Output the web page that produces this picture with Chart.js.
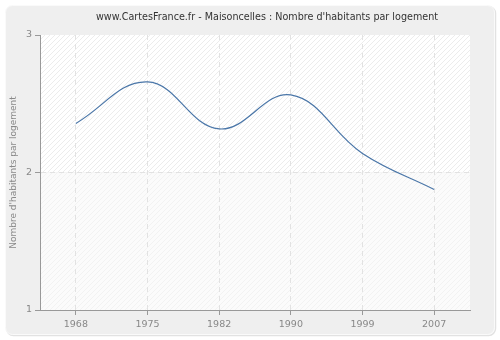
<!DOCTYPE html>
<html><head><meta charset="utf-8">
<script src="https://cdn.jsdelivr.net/npm/chart.js@4/dist/chart.umd.min.js"></script>
<style>html,body{margin:0;padding:0;background:#fff}#wrap{width:500px;height:340px}</style>
</head><body><div id="wrap"><canvas id="c" width="500" height="340"></canvas></div>
<script>
const years = ["1968", "1975", "1982", "1990", "1999", "2007"];
const habitantsParLogement = [2.357, 2.659, 2.317, 2.564, 2.139, 1.877];
const yTicks = [1, 2, 3];
const titleText = "www.CartesFrance.fr - Maisoncelles : Nombre d'habitants par logement";
const yTitle = "Nombre d'habitants par logement";

const bgPlugin = {
  id: 'bg',
  beforeDraw(chart) {
    const ctx = chart.ctx, ca = chart.chartArea;
    ctx.save();
    ctx.fillStyle = '#ffffff';
    ctx.fillRect(0, 0, chart.width, chart.height);
    const x0 = 5.5, y0 = 5.5, w = 489, h = 329, r = 7;
    const rr = () => {
      ctx.beginPath();
      ctx.moveTo(x0 + r, y0);
      ctx.arcTo(x0 + w, y0, x0 + w, y0 + h, r);
      ctx.arcTo(x0 + w, y0 + h, x0, y0 + h, r);
      ctx.arcTo(x0, y0 + h, x0, y0, r);
      ctx.arcTo(x0, y0, x0 + w, y0, r);
      ctx.closePath();
    };
    ctx.save();
    ctx.translate(1, 1);
    rr(); ctx.strokeStyle = '#e2e2e2'; ctx.lineWidth = 1.5; ctx.stroke();
    ctx.restore();
    rr();
    ctx.fillStyle = '#efefef';
    ctx.fill();
    ctx.strokeStyle = '#fafafa';
    ctx.lineWidth = 1;
    ctx.stroke();
    // title
    ctx.fillStyle = '#333333';
    ctx.font = '9.6px "DejaVu Sans"';
    ctx.textAlign = 'center';
    ctx.textBaseline = 'middle';
    ctx.fillText(titleText, 267, 17);
    // plot area
    const ys = chart.scales.y;
    const mid = ys.getPixelForValue(2);
    const W = ca.right - ca.left, H = ca.bottom - ca.top;
    const hatch = (top, bot, bg, fg) => {
      ctx.save();
      ctx.beginPath();
      ctx.rect(ca.left, top, W, bot - top);
      ctx.clip();
      ctx.fillStyle = bg;
      ctx.fillRect(ca.left, top, W, bot - top);
      ctx.strokeStyle = fg;
      ctx.lineWidth = 1;
      for (let s = ca.left - H; s < ca.right + 10; s += 5) {
        ctx.beginPath();
        ctx.moveTo(s, ca.bottom);
        ctx.lineTo(s + H, ca.top);
        ctx.stroke();
      }
      ctx.restore();
    };
    hatch(ca.top, mid, '#ffffff', '#ececec');
    hatch(mid, ca.bottom, '#fbfbfb', '#f2f2f2');
    ctx.restore();
  }
};

new Chart(document.getElementById('c'), {
  type: 'line',
  data: {
    labels: years,
    datasets: [{
      data: habitantsParLogement,
      borderColor: '#4a76a8',
      borderWidth: 1.2,
      pointRadius: 0,
      fill: false,
      tension: 0.4
    }]
  },
  plugins: [bgPlugin],
  options: {
    responsive: false,
    animation: false,
    layout: { padding: { top: 35, right: 30, bottom: 0, left: 0 } },
    plugins: {
      legend: { display: false },
      tooltip: { enabled: false },
      title: { display: false }
    },
    scales: {
      x: {
        type: 'category',
        offset: true,
        grid: {
          display: true,
          offset: false,
          color: '#e2e2e2',
          tickColor: '#999999',
          tickLength: 5,
          tickBorderDash: [],
          drawOnChartArea: true
        },
        border: { display: true, color: '#999999', width: 1, dash: [5, 4] },
        ticks: { color: '#888888', font: { family: 'DejaVu Sans', size: 9.5 }, padding: 4, maxRotation: 0 },
        afterFit(s) { s.height = 30; }
      },
      y: {
        min: 1, max: 3,
        afterBuildTicks(s) { s.ticks = yTicks.map(v => ({ value: v })); },
        grid: {
          color: (c) => (c.tick && c.tick.value === 2) ? '#e2e2e2' : 'rgba(0,0,0,0)',
          tickColor: '#999999',
          tickLength: 5,
          tickBorderDash: []
        },
        border: { display: true, color: '#999999', width: 1, dash: [5, 4] },
        ticks: { color: '#888888', font: { family: 'DejaVu Sans', size: 9.5 }, padding: 3 },
        title: { display: true, text: yTitle, color: '#888888', font: { family: 'DejaVu Sans', size: 9 }, padding: { top: 8, bottom: 0 } },
        afterFit(s) { s.width = 40; }
      }
    }
  }
});
</script></body></html>
